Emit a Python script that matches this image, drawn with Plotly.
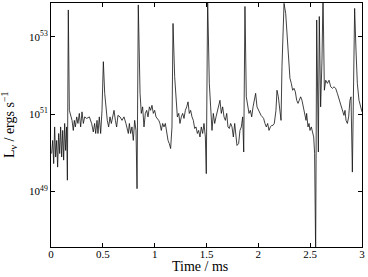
import plotly.graph_objects as go

# Time in ms
time_ms = [
    0.006, 0.016, 0.026, 0.035, 0.045, 0.055, 0.064, 0.074, 0.084, 0.093,
    0.103, 0.113, 0.122, 0.132, 0.141, 0.151, 0.158, 0.167, 0.177, 0.190,
    0.203, 0.215, 0.225, 0.235, 0.248, 0.260, 0.273, 0.286, 0.299, 0.312,
    0.325, 0.344, 0.370, 0.392, 0.408, 0.421, 0.431, 0.444, 0.453, 0.466,
    0.479, 0.492, 0.505, 0.518, 0.531, 0.543, 0.556, 0.569, 0.582, 0.595,
    0.608, 0.621, 0.633, 0.646, 0.666, 0.685, 0.704, 0.723, 0.746,
    0.756, 0.768, 0.781, 0.794, 0.807, 0.820, 0.830, 0.842, 0.859, 0.871,
    0.884, 0.897, 0.910, 0.923, 0.936, 0.949, 0.961, 0.974, 0.987, 1.000,
    1.013, 1.026, 1.039, 1.051, 1.064, 1.077, 1.090, 1.103, 1.116, 1.129,
    1.141, 1.154, 1.167, 1.177, 1.193, 1.206, 1.219, 1.232, 1.244, 1.257,
    1.270, 1.283, 1.296, 1.309, 1.322, 1.334, 1.347, 1.360, 1.373, 1.386,
    1.399, 1.412, 1.424, 1.437, 1.450, 1.463, 1.476, 1.489, 1.498,
    1.511, 1.527, 1.540, 1.553, 1.566, 1.579, 1.592, 1.605, 1.617, 1.630,
    1.643, 1.656, 1.669, 1.682, 1.695, 1.707, 1.720, 1.733, 1.746, 1.759,
    1.772, 1.785, 1.794, 1.810, 1.823, 1.836, 1.849, 1.859, 1.871, 1.884,
    1.897, 1.910, 1.923, 1.936, 1.949, 1.961, 1.974, 1.987, 2.000, 2.013,
    2.026, 2.039, 2.051, 2.064, 2.077, 2.090, 2.103, 2.116, 2.129, 2.141,
    2.154, 2.170, 2.180, 2.193, 2.206, 2.219, 2.228, 2.241,
    2.248, 2.264, 2.280, 2.293, 2.305, 2.318, 2.331, 2.344, 2.357, 2.370,
    2.383, 2.395, 2.408, 2.421, 2.434, 2.447, 2.460, 2.466, 2.479, 2.489,
    2.498, 2.511, 2.524, 2.534, 2.543, 2.553, 2.563, 2.572, 2.579, 2.588,
    2.601, 2.614, 2.624, 2.637, 2.650, 2.666, 2.682, 2.698, 2.714, 2.730,
    2.746, 2.762, 2.778, 2.794, 2.810, 2.826, 2.836, 2.846, 2.859, 2.871,
    2.884, 2.894, 2.907, 2.929, 2.942, 2.955, 2.971, 2.987, 3.000,
]

# log10 of neutrino luminosity (ergs/s)
log_lum = [
    49.98, 50.32, 49.72, 50.67, 49.89, 50.32, 49.63, 50.50, 49.98, 50.67,
    49.89, 50.58, 49.81, 50.76, 50.06, 50.67, 49.29, 53.70, 51.10, 50.93,
    50.84, 50.58, 50.84, 50.67, 50.93, 50.76, 51.02, 50.67, 51.06, 50.76,
    50.93, 50.89, 50.93, 50.76, 50.54, 50.76, 50.50, 50.84, 50.50, 50.93,
    50.50, 51.10, 52.36, 51.54, 51.10, 50.84, 50.67, 50.93, 50.76, 50.97,
    51.10, 50.84, 50.67, 50.97, 50.93, 50.84, 50.93, 50.76, 50.50,
    50.76, 50.50, 50.67, 50.32, 50.84, 50.58, 49.07, 53.83, 51.54, 51.02,
    51.19, 50.67, 51.02, 51.10, 50.93, 51.19, 51.10, 51.23, 51.02, 51.10,
    50.93, 50.89, 50.84, 50.76, 50.58, 50.76, 50.67, 50.76, 50.50, 50.32,
    50.24, 50.11, 50.67, 53.35, 51.97, 51.28, 50.93, 51.02, 50.76, 50.93,
    51.02, 50.89, 51.10, 51.19, 51.32, 51.02, 51.10, 50.93, 50.84, 50.63,
    50.67, 50.50, 50.58, 50.41, 50.67, 50.50, 50.76, 50.41, 49.46,
    54.00, 51.80, 51.19, 50.58, 51.02, 50.76, 50.93, 51.10, 51.28, 51.36,
    51.02, 51.19, 50.93, 50.84, 51.02, 50.67, 50.63, 50.76, 50.67, 50.41,
    50.76, 50.32, 50.19, 50.24, 50.58, 50.67, 50.93, 50.02, 53.79, 51.45,
    51.19, 51.02, 51.10, 50.93, 51.19, 51.36, 51.54, 51.19, 51.10, 51.02,
    50.97, 50.93, 50.89, 50.76, 50.67, 50.76, 50.58, 50.67, 50.71, 50.71,
    50.76, 51.10, 51.62, 51.45, 51.10, 50.84, 52.23, 53.53,
    53.87, 53.61, 53.01, 52.40, 51.93, 51.80, 51.62, 51.67, 51.58, 51.36,
    51.28, 51.36, 51.45, 51.36, 51.19, 51.02, 50.84, 51.02, 50.67, 50.76,
    50.58, 50.67, 50.50, 50.41, 49.98, 47.40, 53.44, 50.32, 50.02, 53.53,
    51.19, 52.40, 54.10, 51.62, 51.88, 51.80, 51.88, 51.71, 51.67, 51.71,
    51.67, 51.54, 51.41, 51.28, 51.10, 50.97, 51.10, 50.84, 50.76, 50.93,
    51.36, 51.45, 49.50, 53.74, 52.66, 51.80, 51.36, 51.19, 51.06,
]

x_tick_vals = [0, 0.5, 1, 1.5, 2, 2.5, 3]
x_tick_text = ["0", "0.5", "1", "1.5", "2", "2.5", "3"]
y_tick_exps = [49, 51, 53]

lum = [10.0 ** v for v in log_lum]

fig = go.Figure()
fig.add_trace(go.Scatter(
    x=time_ms, y=lum, mode="lines",
    line=dict(color="#111111", width=0.8),
    showlegend=False, hoverinfo="skip",
))

font_family = "Liberation Serif, Times New Roman, serif"

fig.update_layout(
    width=368, height=277,
    margin=dict(l=51, r=6, t=3, b=30),
    paper_bgcolor="white", plot_bgcolor="white",
    font=dict(family=font_family, size=11, color="black"),
    showlegend=False,
)
fig.update_xaxes(
    range=[0, 3], tickvals=x_tick_vals, ticktext=x_tick_text,
    ticks="inside", ticklen=4, tickcolor="black", tickwidth=0.8,
    showline=True, linecolor="black", linewidth=1, mirror="ticks",
    showgrid=False, zeroline=False, ticklabelstandoff=-3,
    tickfont=dict(family=font_family, size=11, color="black"),
)
fig.update_yaxes(
    type="log", range=[47.56, 53.88],
    tickvals=[10.0 ** e for e in y_tick_exps],
    ticktext=["10<sup>%d</sup>" % e for e in y_tick_exps],
    ticks="inside", ticklen=4, tickcolor="black", tickwidth=0.8,
    showline=True, linecolor="black", linewidth=1, mirror="ticks",
    showgrid=False, zeroline=False,
    tickfont=dict(family=font_family, size=11, color="black"),
)
fig.add_annotation(
    text="Time / ms", xref="paper", yref="paper", x=0.48, y=0,
    yshift=-10, xanchor="center", yanchor="top", showarrow=False,
    font=dict(family=font_family, size=14, color="black"),
)
fig.add_annotation(
    text="L<sub>ν</sub> / ergs s<sup>−1</sup>", xref="paper", yref="paper",
    x=0, y=0.5, xshift=-42, xanchor="center", yanchor="middle",
    textangle=-90, showarrow=False,
    font=dict(family=font_family, size=14, color="black"),
)

fig.write_html(
    "out.html",
    config={"displayModeBar": False},
    post_script="document.body.style.margin='0';document.body.style.overflow='hidden';",
)
